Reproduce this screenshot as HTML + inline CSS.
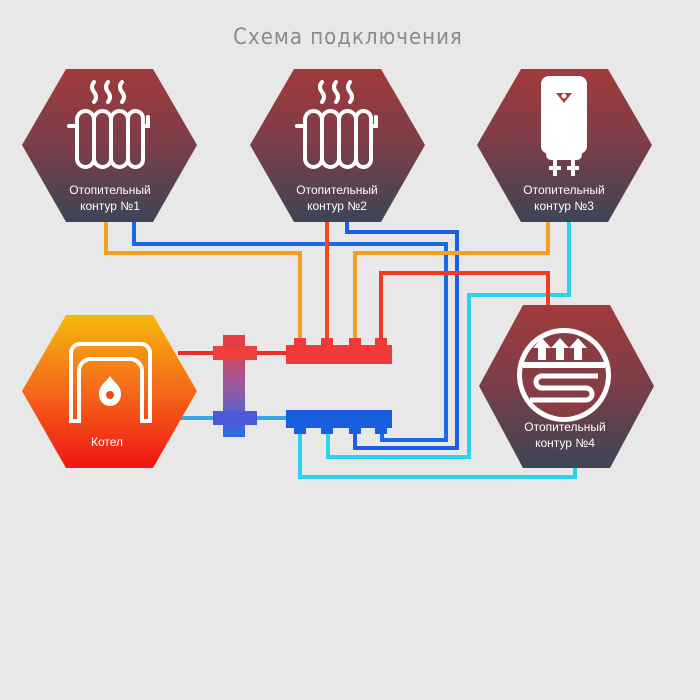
<!DOCTYPE html>
<html><head><meta charset="utf-8"><style>
html,body{margin:0;padding:0;background:#e8e8e8;}
svg{display:block;}
</style></head><body>
<svg width="700" height="700" viewBox="0 0 700 700" xmlns="http://www.w3.org/2000/svg">
<defs>
<linearGradient id="hx" x1="0" y1="0" x2="0" y2="1"><stop offset="0" stop-color="#a23a3c"/><stop offset="0.5" stop-color="#7a3e48"/><stop offset="1" stop-color="#3d4556"/></linearGradient>
<linearGradient id="bo" x1="0" y1="0" x2="0" y2="1"><stop offset="0" stop-color="#f5b80c"/><stop offset="0.5" stop-color="#f5681a"/><stop offset="1" stop-color="#f01414"/></linearGradient>
<linearGradient id="sep" x1="0" y1="0" x2="0" y2="1"><stop offset="0" stop-color="#f0383a"/><stop offset="0.5" stop-color="#9a5aa0"/><stop offset="1" stop-color="#2a6ae8"/></linearGradient>
</defs>
<rect width="700" height="700" fill="#e8e8e8"/>
<text x="348" y="44" text-anchor="middle" font-family="DejaVu Sans Condensed, Liberation Sans Narrow, Liberation Sans, sans-serif" font-size="22" fill="#8a8a8a" letter-spacing="1">Схема подключения</text>

<g fill="none" stroke-width="4" stroke-linejoin="miter">
<polyline points="106,222 106,253 300,253 300,342" stroke="#f4a020"/>
<polyline points="134,222 134,244 446,244 446,440 382,440 382,428" stroke="#1a6ae6"/>
<polyline points="327,222 327,342" stroke="#f04a20"/>
<polyline points="347,222 347,232 457,232 457,448 355,448 355,428" stroke="#1a5ee6"/>
<polyline points="548,222 548,253 355,253 355,342" stroke="#f4a020"/>
<polyline points="569,222 569,295 469,295 469,457 328,457 328,428" stroke="#2ad4ec"/>
<polyline points="548,307 548,273 381,273 381,342" stroke="#f03a22"/>
<polyline points="575,466 575,477 300,477 300,428" stroke="#2ad0ec"/>
<line x1="178" y1="353" x2="290" y2="353" stroke="#f02a2a"/>
<line x1="178" y1="418" x2="290" y2="418" stroke="#30a8ec"/>
</g>

<g fill="#f03a3a">
<rect x="286" y="345" width="106" height="19"/>
<rect x="294" y="338" width="12" height="8"/><rect x="321" y="338" width="12" height="8"/><rect x="349" y="338" width="12" height="8"/><rect x="375" y="338" width="12" height="8"/>
</g>
<g fill="#1a5ee0">
<rect x="286" y="410" width="106" height="18"/>
<rect x="294" y="426" width="12" height="8"/><rect x="321" y="426" width="12" height="8"/><rect x="349" y="426" width="12" height="8"/><rect x="375" y="426" width="12" height="8"/>
</g>
<rect x="223" y="335" width="22" height="102" fill="url(#sep)"/>
<rect x="213" y="346" width="44" height="14" fill="#ec4040"/>
<rect x="213" y="411" width="44" height="14" fill="#4a5ad8"/>

<polygon points="66,69 153,69 197,145 153,222 66,222 22,145" fill="url(#hx)"/>
<polygon points="294,69 381,69 425,145 381,222 294,222 250,145" fill="url(#hx)"/>
<polygon points="521,69 608,69 652,145 608,222 521,222 477,145" fill="url(#hx)"/>
<polygon points="523,305 610,305 654,386 610,468 523,468 479,386" fill="url(#hx)"/>
<polygon points="66,315 153,315 197,391 153,468 66,468 22,391" fill="url(#bo)"/>

<g id="rad" fill="none" stroke="#fff" stroke-width="4" stroke-linecap="round">
<path d="M94,82 q-4,5 0,10 q4,5 0,10 M108,82 q-4,5 0,10 q4,5 0,10 M122,82 q-4,5 0,10 q4,5 0,10"/>
<path d="M69,126 h8 M143,126 h5 v-9"/>
<rect x="77" y="111" width="17" height="56" rx="8.5"/>
<rect x="94" y="111" width="17" height="56" rx="8.5"/>
<rect x="111" y="111" width="17" height="56" rx="8.5"/>
<rect x="128" y="111" width="15" height="56" rx="7.5"/>
</g>
<use href="#rad" x="228"/>

<rect x="541" y="76" width="46" height="78" rx="8" fill="#fff"/>
<path d="M556,93 h16 l-8,10 z" fill="#b03a3c"/>
<circle cx="564" cy="96" r="2.5" fill="#fff"/>
<rect x="546" y="150" width="36" height="10" rx="5" fill="#fff"/>
<rect x="553" y="158" width="4" height="18" fill="#fff"/><rect x="571" y="158" width="4" height="18" fill="#fff"/>
<rect x="549" y="166" width="12" height="4" fill="#fff"/><rect x="567" y="166" width="12" height="4" fill="#fff"/>

<circle cx="564" cy="375" r="47" fill="#fff"/>
<circle cx="564" cy="375" r="42" fill="#8a3c44"/>
<rect x="523" y="362" width="82" height="6" fill="#fff"/>
<g fill="#fff">
<path d="M538,360 v-12 h-5 l9,-10 l9,10 h-5 v12 z"/>
<path d="M556,360 v-12 h-5 l9,-10 l9,10 h-5 v12 z"/>
<path d="M574,360 v-12 h-5 l9,-10 l9,10 h-5 v12 z"/>
</g>
<path d="M598,376 h-56 a6,6 0 0 0 0,12 h44 a6,6 0 0 1 0,12 h-56" fill="none" stroke="#fff" stroke-width="5"/>

<g fill="none" stroke="#fff" stroke-width="4">
<path d="M71,421 v-68 a9,9 0 0 1 9,-9 h61 a9,9 0 0 1 9,9 v68 h-8 v-50 a12,12 0 0 0 -12,-12 h-39 a12,12 0 0 0 -12,12 v50 z"/>
</g>
<path d="M110,376 c-4,6 -11,9 -11,18 c0,7 5,12 11,12 c6,0 11,-5 11,-12 c0,-9 -7,-11 -11,-18 z" fill="#fff"/>
<circle cx="110" cy="395" r="4" fill="#f04a1a"/>

<g font-family="Liberation Sans, sans-serif" font-size="12" fill="#fff" text-anchor="middle">
<text x="110" y="194">Отопительный</text><text x="110" y="210">контур  №1</text>
<text x="337" y="194">Отопительный</text><text x="337" y="210">контур  №2</text>
<text x="564" y="194">Отопительный</text><text x="564" y="210">контур  №3</text>
<text x="565" y="431">Отопительный</text><text x="565" y="447">контур  №4</text>
<text x="107" y="446">Котел</text>
</g>
</svg>
</body></html>
